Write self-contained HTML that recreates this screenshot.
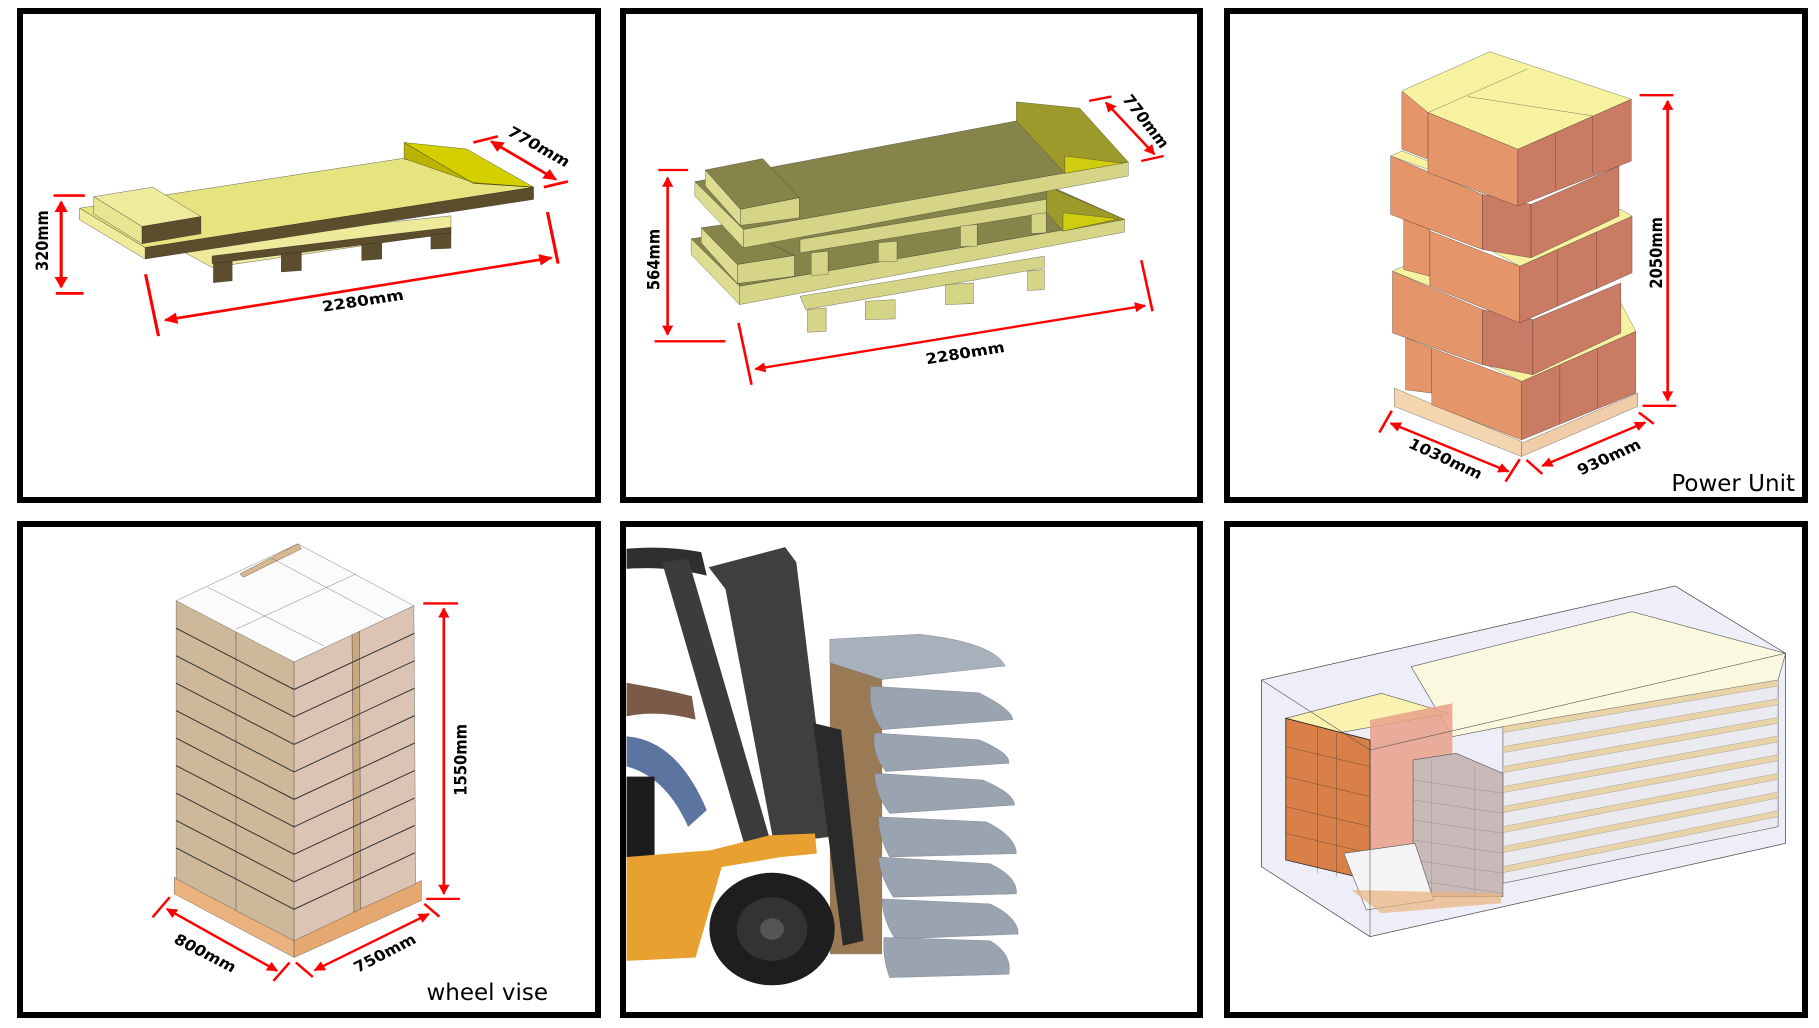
<!DOCTYPE html>
<html><head><meta charset="utf-8"><style>
html,body{margin:0;padding:0;background:#fff;}
svg{display:block;}
text{font-family:"DejaVu Sans","Liberation Sans",sans-serif;font-weight:bold;fill:#000;}
.lbl{font-family:"DejaVu Sans","Liberation Sans",sans-serif;font-weight:normal;}
.r{stroke:#f00;fill:none;stroke-width:7;}
.o{stroke:#222;vector-effect:non-scaling-stroke;stroke-width:0.8;}
.t{stroke:#555;vector-effect:non-scaling-stroke;stroke-width:0.6;}
</style></head><body>
<svg width="1819" height="1028" viewBox="0 0 1819 1028" xmlns="http://www.w3.org/2000/svg">
<defs>
<marker id="a" viewBox="0 0 10 10" refX="9" refY="5" markerWidth="44" markerHeight="30" markerUnits="userSpaceOnUse" orient="auto-start-reverse"><path d="M0,0 L10,5 L0,10 z" fill="#f00"/></marker>
</defs>
<rect width="1819" height="1028" fill="#fff"/>

<!-- PANEL 1 -->
<g transform="translate(0,0) scale(0.4465,0.382)">
  <g class="o">
  <polygon points="380,640 1010,565 1010,610 475,700" fill="#eeea9c"/>
  <polygon points="475,670 1010,595 1010,612 475,690" fill="#5c4d2d"/>
  <polygon points="478,690 520,684 520,735 478,740" fill="#5c4d2d"/>
  <polygon points="630,665 675,660 675,708 630,712" fill="#5c4d2d"/>
  <polygon points="810,640 855,636 855,678 810,682" fill="#5c4d2d"/>
  <polygon points="965,615 1010,610 1010,650 965,652" fill="#5c4d2d"/>
  <polygon points="178,545 900,415 1195,490 325,648" fill="#e6e47e"/>
  <polygon points="325,648 1195,490 1195,522 325,678" fill="#5c4d2d"/>
  <polygon points="178,545 325,648 325,678 178,575" fill="#eeec9c"/>
  <polygon points="210,515 342,490 450,567 318,593" fill="#eeec9c"/>
  <polygon points="318,593 450,567 450,612 318,638" fill="#5c4d2d"/>
  <polygon points="210,515 318,593 318,638 210,560" fill="#e8e690"/>
  <polygon points="905,373 1045,390 1195,490 1060,480" fill="#d4d000"/>
  <polygon points="905,373 1060,480 1195,490 1060,478 905,415" fill="#b8b400"/>
  </g>
  <line class="r" x1="120" y1="512" x2="190" y2="512"/><line class="r" x1="125" y1="768" x2="187" y2="768"/>
  <line class="r" x1="137" y1="528" x2="137" y2="752" marker-start="url(#a)" marker-end="url(#a)"/>
  <text transform="translate(108,630) rotate(-90)" font-size="38" text-anchor="middle">320mm</text>
  <line class="r" x1="326" y1="718" x2="355" y2="880"/><line class="r" x1="1226" y1="555" x2="1250" y2="690"/>
  <line class="r" x1="370" y1="838" x2="1235" y2="675" marker-start="url(#a)" marker-end="url(#a)"/>
  <text transform="translate(815,800) rotate(-10)" font-size="38" text-anchor="middle">2280mm</text>
  <line class="r" x1="1060" y1="373" x2="1115" y2="357"/><line class="r" x1="1218" y1="490" x2="1272" y2="475"/>
  <line class="r" x1="1100" y1="370" x2="1245" y2="470" marker-start="url(#a)" marker-end="url(#a)"/>
  <text transform="translate(1200,395) rotate(33)" font-size="38" text-anchor="middle">770mm</text>
</g>

<!-- PANEL 2 -->
<g transform="translate(621,9) scale(0.373,0.334)">
  <g class="o">
  <polygon points="480,860 1135,740 1135,775 495,900" fill="#d6d487"/>
  <polygon points="500,900 550,895 550,965 500,968" fill="#d6d487"/>
  <polygon points="655,875 735,870 735,928 655,930" fill="#d6d487"/>
  <polygon points="870,825 945,820 945,882 870,885" fill="#d6d487"/>
  <polygon points="1090,785 1135,780 1135,840 1090,843" fill="#d6d487"/>
  <polygon points="188,688 1140,525 1350,630 318,830" fill="#86844a"/>
  <polygon points="318,830 1350,630 1350,668 318,885" fill="#d6d487"/>
  <polygon points="188,688 318,830 318,885 188,735" fill="#dedc90"/>
  <polygon points="215,655 290,643 465,738 312,765" fill="#86844a"/>
  <polygon points="312,765 465,738 465,800 312,822" fill="#d6d487"/>
  <polygon points="215,655 312,765 312,822 215,700" fill="#dedc90"/>
  <polygon points="1140,530 1350,630 1185,665 1140,610" fill="#9c9a2a"/>
  <polygon points="1185,610 1335,628 1185,665" fill="#d0cc10"/>
  <polygon points="480,690 1140,570 1140,610 480,730" fill="#d6d487"/>
  <polygon points="510,730 555,725 555,795 510,798" fill="#d6d487"/>
  <polygon points="690,700 740,695 740,755 690,757" fill="#d6d487"/>
  <polygon points="910,650 955,645 955,710 910,712" fill="#d6d487"/>
  <polygon points="1100,615 1140,610 1140,670 1100,672" fill="#d6d487"/>
  <polygon points="198,517 1060,335 1360,458 328,660" fill="#86844a"/>
  <polygon points="328,660 1360,458 1360,500 328,715" fill="#d6d487"/>
  <polygon points="198,517 328,660 328,715 198,560" fill="#dedc90"/>
  <polygon points="226,482 380,448 478,565 320,600" fill="#86844a"/>
  <polygon points="320,600 478,565 478,625 320,648" fill="#d6d487"/>
  <polygon points="226,482 320,600 320,648 226,530" fill="#dedc90"/>
  <polygon points="1060,278 1230,297 1360,458 1190,492 1060,335" fill="#9c9a2a"/>
  <polygon points="1190,440 1345,462 1190,492" fill="#d0cc10"/>
  </g>
  <line class="r" x1="100" y1="482" x2="180" y2="482"/><line class="r" x1="90" y1="995" x2="280" y2="995"/>
  <line class="r" x1="125" y1="505" x2="125" y2="975" marker-start="url(#a)" marker-end="url(#a)"/>
  <text transform="translate(103,750) rotate(-90)" font-size="44" text-anchor="middle">564mm</text>
  <line class="r" x1="315" y1="940" x2="350" y2="1125"/><line class="r" x1="1395" y1="752" x2="1425" y2="905"/>
  <line class="r" x1="360" y1="1078" x2="1405" y2="888" marker-start="url(#a)" marker-end="url(#a)"/>
  <text transform="translate(925,1045) rotate(-10)" font-size="44" text-anchor="middle">2280mm</text>
  <line class="r" x1="1255" y1="275" x2="1315" y2="262"/><line class="r" x1="1395" y1="455" x2="1455" y2="440"/>
  <line class="r" x1="1300" y1="280" x2="1430" y2="435" marker-start="url(#a)" marker-end="url(#a)"/>
  <text transform="translate(1395,345) rotate(55)" font-size="44" text-anchor="middle">770mm</text>
</g>

<!-- PANEL 3 -->
<g transform="translate(1224,9) scale(0.3744,0.334)">
  <g class="o">
  <polygon points="455,1135 795,1295 795,1340 455,1190" fill="#f3d5b0"/>
  <polygon points="795,1300 1105,1150 1105,1190 795,1340" fill="#f0cca8"/>
  <polygon points="485,985 555,1015 555,1150 485,1140" fill="#e4956a"/>
  <polygon points="555,1015 795,1115 795,1290 555,1185" fill="#e4956a"/>
  <polygon points="795,1115 1100,965 1100,1150 795,1290" fill="#c97b63"/>
  <line x1="897" y1="1068" x2="897" y2="1240"/><line x1="997" y1="1018" x2="997" y2="1192"/>
  <polygon points="700,1065 1060,880 1100,965 795,1115" fill="#f6f2a0"/>
  <polygon points="450,785 690,900 690,1065 450,970" fill="#e4956a"/>
  <polygon points="690,900 825,930 825,1095 690,1065" fill="#c97b63"/>
  <polygon points="825,930 1060,820 1060,970 825,1095" fill="#c97b63"/>
  <polygon points="450,785 480,770 550,800 550,830" fill="#f6f2a0"/>
  <polygon points="480,630 550,660 550,800 480,780" fill="#e4956a"/>
  <polygon points="550,665 790,770 790,940 550,830" fill="#e4956a"/>
  <polygon points="790,770 1090,620 1090,790 790,940" fill="#c97b63"/>
  <line x1="890" y1="722" x2="890" y2="890"/><line x1="995" y1="668" x2="995" y2="838"/>
  <polygon points="700,715 1060,600 1090,620 790,770" fill="#f6f2a0"/>
  <polygon points="445,440 690,555 690,720 445,615" fill="#e4956a"/>
  <polygon points="690,555 820,585 820,745 690,720" fill="#c97b63"/>
  <polygon points="820,585 1055,470 1055,620 820,745" fill="#c97b63"/>
  <polygon points="445,440 475,425 545,455 545,480" fill="#f6f2a0"/>
  <polygon points="475,248 545,290 545,450 475,420" fill="#e4956a"/>
  <polygon points="475,245 710,128 1088,270 785,420 545,310" fill="#f6f2a0"/>
  <line x1="545" y1="310" x2="810" y2="180"/><line x1="650" y1="262" x2="985" y2="320"/>
  <polygon points="545,310 785,420 785,590 545,490" fill="#e4956a"/>
  <polygon points="785,420 1088,270 1088,455 785,590" fill="#c97b63"/>
  <line x1="885" y1="372" x2="885" y2="540"/><line x1="985" y1="322" x2="985" y2="490"/>
  </g>
  <line class="r" x1="1110" y1="258" x2="1200" y2="258"/><line class="r" x1="1118" y1="1188" x2="1208" y2="1188"/>
  <line class="r" x1="1185" y1="275" x2="1185" y2="1172" marker-start="url(#a)" marker-end="url(#a)"/>
  <text transform="translate(1170,730) rotate(-90)" font-size="44" text-anchor="middle">2050mm</text>
  <line class="r" x1="448" y1="1203" x2="415" y2="1268"/><line class="r" x1="790" y1="1348" x2="752" y2="1415"/>
  <line class="r" x1="445" y1="1240" x2="760" y2="1385" marker-start="url(#a)" marker-end="url(#a)"/>
  <text transform="translate(585,1360) rotate(27)" font-size="44" text-anchor="middle">1030mm</text>
  <line class="r" x1="1108" y1="1208" x2="1148" y2="1242"/><line class="r" x1="808" y1="1350" x2="850" y2="1392"/>
  <line class="r" x1="850" y1="1368" x2="1125" y2="1238" marker-start="url(#a)" marker-end="url(#a)"/>
  <text transform="translate(1035,1355) rotate(-27)" font-size="44" text-anchor="middle">930mm</text>
</g>
<text class="lbl" x="1795" y="491" font-size="23" text-anchor="end">Power Unit</text>

<!-- PANEL 4 -->
<g transform="translate(17,522) scale(0.3744,0.335)">
  <g class="o">
  <polygon points="420,1060 740,1245 740,1300 420,1110" fill="#e9b27e"/>
  <polygon points="740,1245 1080,1070 1080,1130 740,1300" fill="#e4a870"/>
  <polygon points="425,235 585,320 585,1160 425,1065" fill="#cdb89a"/>
  <polygon points="585,320 740,418 740,1250 585,1160" fill="#cdb89a"/>
  <polygon points="740,418 895,335 900,1165 740,1250" fill="#dcc4b4"/>
  <polygon points="895,335 915,325 918,1155 900,1165" fill="#c8a880"/>
  <polygon points="915,325 1060,250 1065,1080 918,1155" fill="#dcc4b4"/>
  <polygon points="425,235 750,65 1060,250 740,418" fill="#fbfbfb"/>
  <polygon points="595,155 750,65 760,80 605,165" fill="#d8b890"/>
  <line x1="510" y1="195" x2="820" y2="370"/><line x1="680" y1="108" x2="985" y2="290"/>
  <line x1="585" y1="320" x2="905" y2="155"/>
  </g>
  <g stroke="#333" stroke-width="1" vector-effect="non-scaling-stroke">
  <path d="M425,317 L740,500 M425,399 L740,582 M425,481 L740,664 M425,563 L740,746 M425,645 L740,828 M425,727 L740,910 M425,809 L740,992 M425,891 L740,1074 M425,973 L740,1156 M740,500 L1062,332 M740,582 L1062,414 M740,664 L1062,496 M740,746 L1062,578 M740,828 L1062,660 M740,910 L1062,742 M740,992 L1062,824 M740,1074 L1062,906 M740,1156 L1062,988" vector-effect="non-scaling-stroke"/>
  </g>
  <line class="r" x1="1085" y1="243" x2="1178" y2="243"/><line class="r" x1="1093" y1="1125" x2="1183" y2="1125"/>
  <line class="r" x1="1140" y1="258" x2="1140" y2="1110" marker-start="url(#a)" marker-end="url(#a)"/>
  <text transform="translate(1200,710) rotate(-90)" font-size="44" text-anchor="middle">1550mm</text>
  <line class="r" x1="408" y1="1120" x2="362" y2="1180"/><line class="r" x1="728" y1="1315" x2="685" y2="1370"/>
  <line class="r" x1="400" y1="1155" x2="695" y2="1340" marker-start="url(#a)" marker-end="url(#a)"/>
  <text transform="translate(495,1300) rotate(30)" font-size="44" text-anchor="middle">800mm</text>
  <line class="r" x1="1088" y1="1140" x2="1128" y2="1178"/><line class="r" x1="745" y1="1315" x2="790" y2="1358"/>
  <line class="r" x1="795" y1="1338" x2="1100" y2="1170" marker-start="url(#a)" marker-end="url(#a)"/>
  <text transform="translate(990,1300) rotate(-30)" font-size="44" text-anchor="middle">750mm</text>
</g>
<text class="lbl" x="548" y="1000" font-size="23" text-anchor="end">wheel vise</text>

<!-- PANEL 5 forklift -->
<g transform="translate(621,522) scale(0.373,0.335)">
  <rect x="560" y="350" width="140" height="940" fill="#9a7a55"/>
  <g fill="#9aa3b0" stroke="#6a7480" stroke-width="1" vector-effect="non-scaling-stroke">
  <path d="M560,350 L800,335 Q1000,360 1030,430 L700,470 L560,420 Z" fill="#a8b0bc"/>
  <path d="M670,490 L960,510 Q1050,560 1050,590 L700,620 Q660,560 670,490 Z"/>
  <path d="M680,630 L960,650 Q1045,690 1040,720 L710,745 Q670,690 680,630 Z"/>
  <path d="M680,750 L970,770 Q1055,810 1055,845 L720,870 Q680,810 680,750 Z"/>
  <path d="M690,880 L980,895 Q1060,940 1060,990 L720,1000 Q690,940 690,880 Z"/>
  <path d="M690,1000 L990,1020 Q1065,1060 1060,1110 L730,1120 Q695,1060 690,1000 Z"/>
  <path d="M700,1125 L990,1140 Q1065,1180 1065,1230 L735,1245 Q700,1185 700,1125 Z"/>
  <path d="M705,1240 L990,1250 Q1050,1290 1040,1350 L720,1360 Q700,1300 705,1240 Z"/>
  </g>
  <path d="M15,80 Q120,70 215,90 L230,160 Q120,130 15,140 Z" fill="#2d302d"/>
  <polygon points="110,120 180,110 400,950 330,960" fill="#3a3d3a"/>
  <polygon points="235,135 440,75 470,120 560,940 410,960 280,200" fill="#3d403d"/>
  <polygon points="515,600 590,620 650,1250 595,1265" fill="#2a2a2a"/>
  <path d="M15,480 Q120,500 190,520 L200,590 Q100,560 15,580 Z" fill="#7a5a48"/>
  <path d="M15,640 Q150,650 230,860 L180,910 Q120,760 15,730 Z" fill="#5b74a0"/>
  <rect x="15" y="760" width="75" height="250" fill="#1c1c1c"/>
  <polygon points="15,1000 240,980 400,935 520,930 525,990 430,1000 270,1030 200,1300 15,1310" fill="#e8a030"/>
  <circle cx="405" cy="1215" r="168" fill="#1e1e1e"/>
  <circle cx="405" cy="1215" r="95" fill="#333"/>
  <circle cx="405" cy="1215" r="32" fill="#555"/>
</g>

<!-- PANEL 6 container -->
<g transform="translate(1224,580) scale(0.3744,0.3333)">
  <polygon points="100,300 1205,18 1500,220 1500,790 390,1070 100,860" fill="#eeeef8" class="t"/>
  <polygon points="745,440 1480,300 1480,740 745,910" fill="#ebeaf0" class="t"/>
  <polygon points="500,260 1090,95 1500,220 1480,300 745,440 610,470" fill="#fbf8e0" class="t"/>
  <g class="t">
  <polygon points="745,440 1480,300 1480,318 745,458" fill="#e8d4a8"/>
  <polygon points="745,500 1480,356 1480,374 745,518" fill="#e8d4a8"/>
  <polygon points="745,560 1480,412 1480,430 745,578" fill="#e8d4a8"/>
  <polygon points="745,620 1480,468 1480,486 745,638" fill="#e8d4a8"/>
  <polygon points="745,680 1480,524 1480,542 745,698" fill="#e8d4a8"/>
  <polygon points="745,740 1480,580 1480,598 745,758" fill="#e8d4a8"/>
  <polygon points="745,800 1480,636 1480,654 745,818" fill="#e8d4a8"/>
  <polygon points="745,860 1480,692 1480,710 745,878" fill="#e8d4a8"/>
  </g>
  <polygon points="165,415 420,340 600,400 250,470" fill="#faf2b0" class="t"/>
  <polygon points="390,420 610,370 610,800 390,860" fill="#e8a08a" opacity="0.85"/>
  <polygon points="165,415 390,480 390,900 165,840" fill="#d98048" class="o"/>
  <g class="o" fill="none"><path d="M165,500 L390,560 M165,590 L390,650 M165,680 L390,740 M165,760 L390,820 M250,440 L250,880 M300,460 L300,890"/></g>
  <polygon points="505,540 620,520 745,580 745,950 505,950" fill="#c9b9b9" class="t"/>
  <g class="t" fill="none"><path d="M505,600 L745,640 M505,660 L745,700 M505,720 L745,760 M505,780 L745,820 M505,840 L745,880 M505,900 L745,940 M555,545 L555,950 M670,560 L670,950"/></g>
  <polygon points="320,820 510,790 560,960 380,990" fill="#f4f4f6" class="t"/>
  <polygon points="340,930 740,940 740,970 420,1000" fill="#e9b27e" opacity="0.7"/>
  <polygon points="100,300 1205,18 1500,220 1500,790 390,1070 100,860" fill="none" class="t"/>
  <path d="M390,510 L1500,220 M390,510 L390,1070 M100,300 L390,510" fill="none" class="t"/>
</g>

<!-- Borders -->
<g fill="none" stroke="#000" stroke-width="6">
<rect x="20" y="11" width="578" height="489"/>
<rect x="623" y="11" width="577" height="489"/>
<rect x="1227" y="11" width="578" height="489"/>
<rect x="20" y="524" width="578" height="491"/>
<rect x="623" y="524" width="577" height="491"/>
<rect x="1227" y="524" width="578" height="491"/>
</g>
</svg>
</body></html>
